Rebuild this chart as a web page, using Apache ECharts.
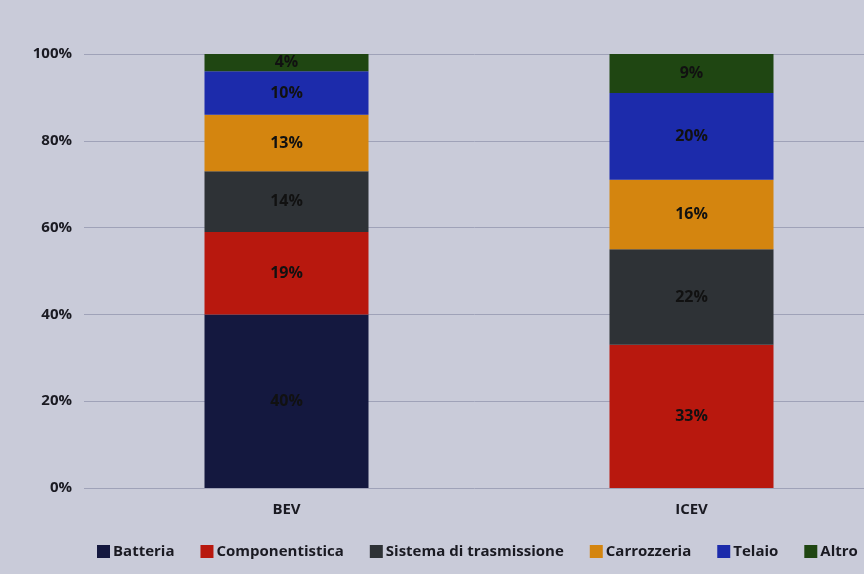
<!DOCTYPE html>
<html><head><meta charset="utf-8">
<script src="https://cdn.jsdelivr.net/npm/echarts@6/dist/echarts.min.js"></script>
<style>html,body{margin:0;padding:0;background:#fff}#c{width:864px;height:574px}</style>
</head><body><div id="c"></div>
<script>
const categories = ['BEV', 'ICEV'];
const seriesNames = ['Batteria', 'Componentistica', 'Sistema di trasmissione', 'Carrozzeria', 'Telaio', 'Altro'];
const batteria = [40, 0];
const componentistica = [19, 33];
const sistema = [14, 22];
const carrozzeria = [13, 16];
const telaio = [10, 20];
const altro = [4, 9];
const yTicks = [0, 20, 40, 60, 80, 100];

const values = [batteria, componentistica, sistema, carrozzeria, telaio, altro];
const colors = ['#14183f', '#b8180e', '#2e3236', '#d4850f', '#1c2bab', '#1f4612'];

const chart = echarts.init(document.getElementById('c'));
chart.setOption({
  backgroundColor: '#c9cbd9',
  textStyle: { fontFamily: 'Open Sans' },
  grid: { left: 84, width: 810, top: 54, bottom: 86, outerBoundsMode: 'none', containLabel: false },
  xAxis: {
    type: 'category', data: categories,
    axisLine: { show: false }, axisTick: { show: false },
    axisLabel: { color: '#1a1a22', fontWeight: 'bold', fontSize: 15, margin: 14 }
  },
  yAxis: {
    type: 'value', min: 0, max: 100, interval: 20,
    axisLabel: { color: '#1a1a22', fontWeight: 'bold', fontSize: 15, margin: 12,
      formatter: v => yTicks.includes(v) ? v + '%' : '' },
    splitLine: { lineStyle: { color: '#9fa2b8', width: 1 } },
    axisLine: { show: false }, axisTick: { show: false }
  },
  legend: {
    bottom: 10, left: 92, itemWidth: 13, itemHeight: 13, itemGap: 26, icon: 'rect',
    textStyle: { color: '#1a1a22', fontSize: 15, fontWeight: 'bold', padding: [0, 0, 0, -2] },
    data: seriesNames
  },
  series: seriesNames.map((n, i) => ({
    name: n, type: 'bar', stack: 'tot', barWidth: 164,
    itemStyle: { color: colors[i] },
    label: { show: true, position: 'inside', color: '#111', fontWeight: 'bold', fontSize: 16,
      formatter: p => p.value > 0 ? p.value + '%' : '' },
    data: values[i]
  }))
});
</script></body></html>
